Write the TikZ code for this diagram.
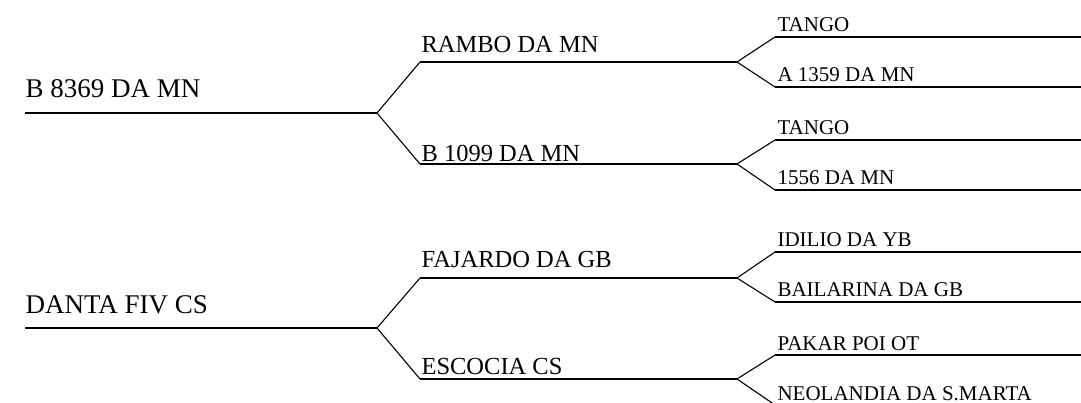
\documentclass[tikz,border=0pt]{standalone}
\usepackage{fontspec}
\setmainfont{Liberation Serif}
\usetikzlibrary{positioning}
\tikzset{
  gen0/.style={anchor=base west,inner sep=0pt,font=\fontsize{27}{30}\selectfont},
  gen1/.style={anchor=base west,inner sep=0pt,font=\fontsize{24.5}{28}\selectfont},
  gen2/.style={anchor=base west,inner sep=0pt,font=\fontsize{21}{24}\selectfont},
  tree/.style={line width=1.1pt}
}

\begin{document}
\begin{tikzpicture}[x=1pt,y=-1pt,tree]
\useasboundingbox (0,0) rectangle (1081,403);
\clip (0,0) rectangle (1081,403);
% grandparents
\foreach \n/\y/\txt in {1/37/TANGO,2/87/A 1359 DA MN,3/140/TANGO,4/190/1556 DA MN,
    5/252/IDILIO DA YB,6/302/BAILARINA DA GB,7/355/PAKAR POI OT,8/405/NEOLANDIA DA S.MARTA}
  {\coordinate (g\n) at (775,\y);
   \coordinate (h\n) at (1081,\y);
   \draw (g\n) -- (h\n);
   \node[gen2] (t\n) at (777,\y-5) {\txt};}
% parents
\foreach \n/\y/\dy/\txt in {1/62/9/RAMBO DA MN,2/164/2/B 1099 DA MN,
    3/278/10/FAJARDO DA GB,4/379/5/ESCOCIA CS}
  {\coordinate (p\n) at (420,\y);
   \coordinate (q\n) at (737,\y);
   \draw (p\n) -- (q\n);
   \node[gen1] (n\n) at (421,\y-\dy) {\txt};}
\foreach \i/\a/\b in {1/1/2,2/3/4,3/5/6,4/7/8}
  \draw (g\a) -- (q\i) -- (g\b);
% animals
\coordinate (a1) at (25,113);  \coordinate (b1) at (377,113);
\coordinate (a2) at (25,328);  \coordinate (b2) at (377,328);
\node[gen0] (m1) at (25,98) {B 8369 DA MN};
\node[gen0] (m2) at (25,313) {DANTA FIV CS};
\draw (a1) -- (b1);
\draw (a2) -- (b2);
\draw (p1) -- (b1) -- (p2);
\draw (p3) -- (b2) -- (p4);
\end{tikzpicture}
\end{document}
